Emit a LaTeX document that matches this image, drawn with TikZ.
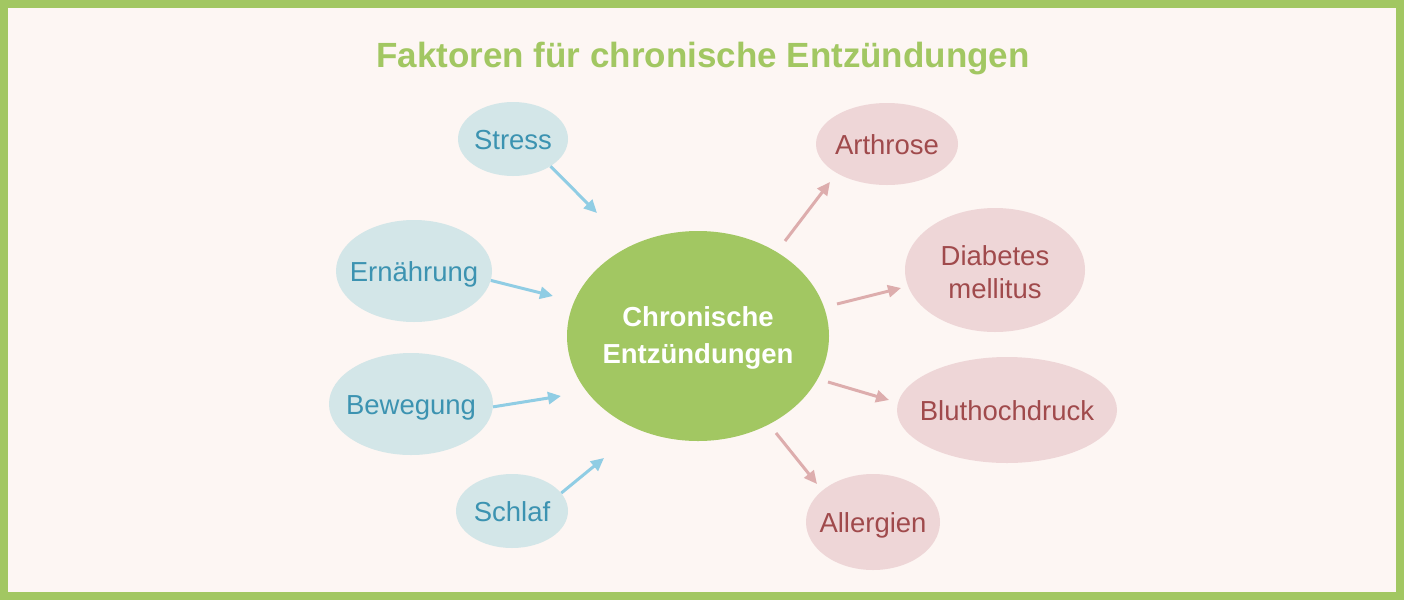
\documentclass[tikz,border=0pt]{standalone}
\usepackage{fontspec}
\setmainfont{Liberation Sans}
\usetikzlibrary{shapes.geometric,arrows.meta}
\definecolor{bgcol}{HTML}{FDF6F3}
\definecolor{greencol}{HTML}{A2C762}
\definecolor{bluefill}{HTML}{D3E6E8}
\definecolor{bluetext}{HTML}{3C93B1}
\definecolor{bluearrow}{HTML}{90CDE4}
\definecolor{pinkfill}{HTML}{EED6D7}
\definecolor{pinktext}{HTML}{A04A4C}
\definecolor{pinkarrow}{HTML}{DDADAD}
\newcommand{\zw}[1]{\makebox[0pt]{#1}}
\newcommand{\twolines}[2]{\makebox[0pt]{\begin{tabular}[t]{@{}c@{}}#1\\#2\end{tabular}}}
\begin{document}
\begin{tikzpicture}[x=1pt,y=-1pt,
  blob/.style={ellipse, inner sep=0pt, font=\fontsize{27.5}{33}\selectfont},
  oneline/.style={text height=20pt, text depth=0pt},
  cause/.style={blob, fill=bluefill, text=bluetext},
  effect/.style={blob, fill=pinkfill, text=pinktext},
  inarrow/.style={draw=bluearrow, line width=3pt, -{Triangle[length=13pt,width=12pt]}},
  outarrow/.style={draw=pinkarrow, line width=3pt, -{Triangle[length=13pt,width=12pt]}}]
\useasboundingbox (0,0) rectangle (1404,600);
\fill[greencol] (0,0) rectangle (1404,600);
\fill[bgcol] (8,8) rectangle (1396,592);

\node[font=\bfseries\fontsize{35}{40}\selectfont, text=greencol, text height=25pt, text depth=0pt, inner sep=0pt] (title) at (703,55) {Faktoren für chronische Entzündungen};

\node[ellipse, fill=greencol, text=white, inner sep=0pt, minimum width=262pt, minimum height=210pt,
      font=\bfseries\fontsize{27.5}{37}\selectfont, text height=18pt, text depth=38pt] (center) at (698,336) {\twolines{Chronische}{Entzündungen}};

\node[cause, oneline, minimum width=110pt, minimum height=74pt] (stress) at (513,139) {\zw{Stress}};
\node[cause, oneline, minimum width=156pt, minimum height=102pt] (ern) at (414,271) {\zw{Ernährung}};
\node[cause, oneline, minimum width=164pt, minimum height=102pt] (bew) at (411,404) {\zw{Bewegung}};
\node[cause, oneline, minimum width=112pt, minimum height=74pt] (schlaf) at (512,511) {\zw{Schlaf}};

\node[effect, oneline, minimum width=142pt, minimum height=82pt] (arth) at (887,144) {\zw{Arthrose}};
\node[effect, text height=20pt, text depth=30pt, minimum width=180pt, minimum height=124pt] (diab) at (995,270) {\twolines{Diabetes}{mellitus}};
\node[effect, oneline, minimum width=220pt, minimum height=106pt] (blut) at (1007,410) {\zw{Bluthochdruck}};
\node[effect, oneline, minimum width=134pt, minimum height=96pt] (allerg) at (873,522) {\zw{Allergien}};

% free ends of the connectors
\coordinate (stressEnd) at (597,213);
\coordinate (ernEnd) at (553,296);
\coordinate (bewEnd) at (561,396);
\coordinate (schlafEnd) at (604,458);
\coordinate (arthStart) at (785,241);
\coordinate (arthEnd) at (830,182);
\coordinate (diabStart) at (837,304);
\coordinate (diabEnd) at (901,288);
\coordinate (blutStart) at (828,382);
\coordinate (blutEnd) at (889,400);
\coordinate (allergStart) at (776,433);
\coordinate (allergEnd) at (817,484);

\draw[inarrow] (stress.-36) -- (stressEnd);
\draw[inarrow] (ern.-7) -- (ernEnd);
\draw[inarrow] (bew.-2) -- (bewEnd);
\draw[inarrow] (schlaf.20) -- (schlafEnd);

\draw[outarrow] (arthStart) -- (arthEnd);
\draw[outarrow] (diabStart) -- (diabEnd);
\draw[outarrow] (blutStart) -- (blutEnd);
\draw[outarrow] (allergStart) -- (allergEnd);
\end{tikzpicture}
\end{document}
